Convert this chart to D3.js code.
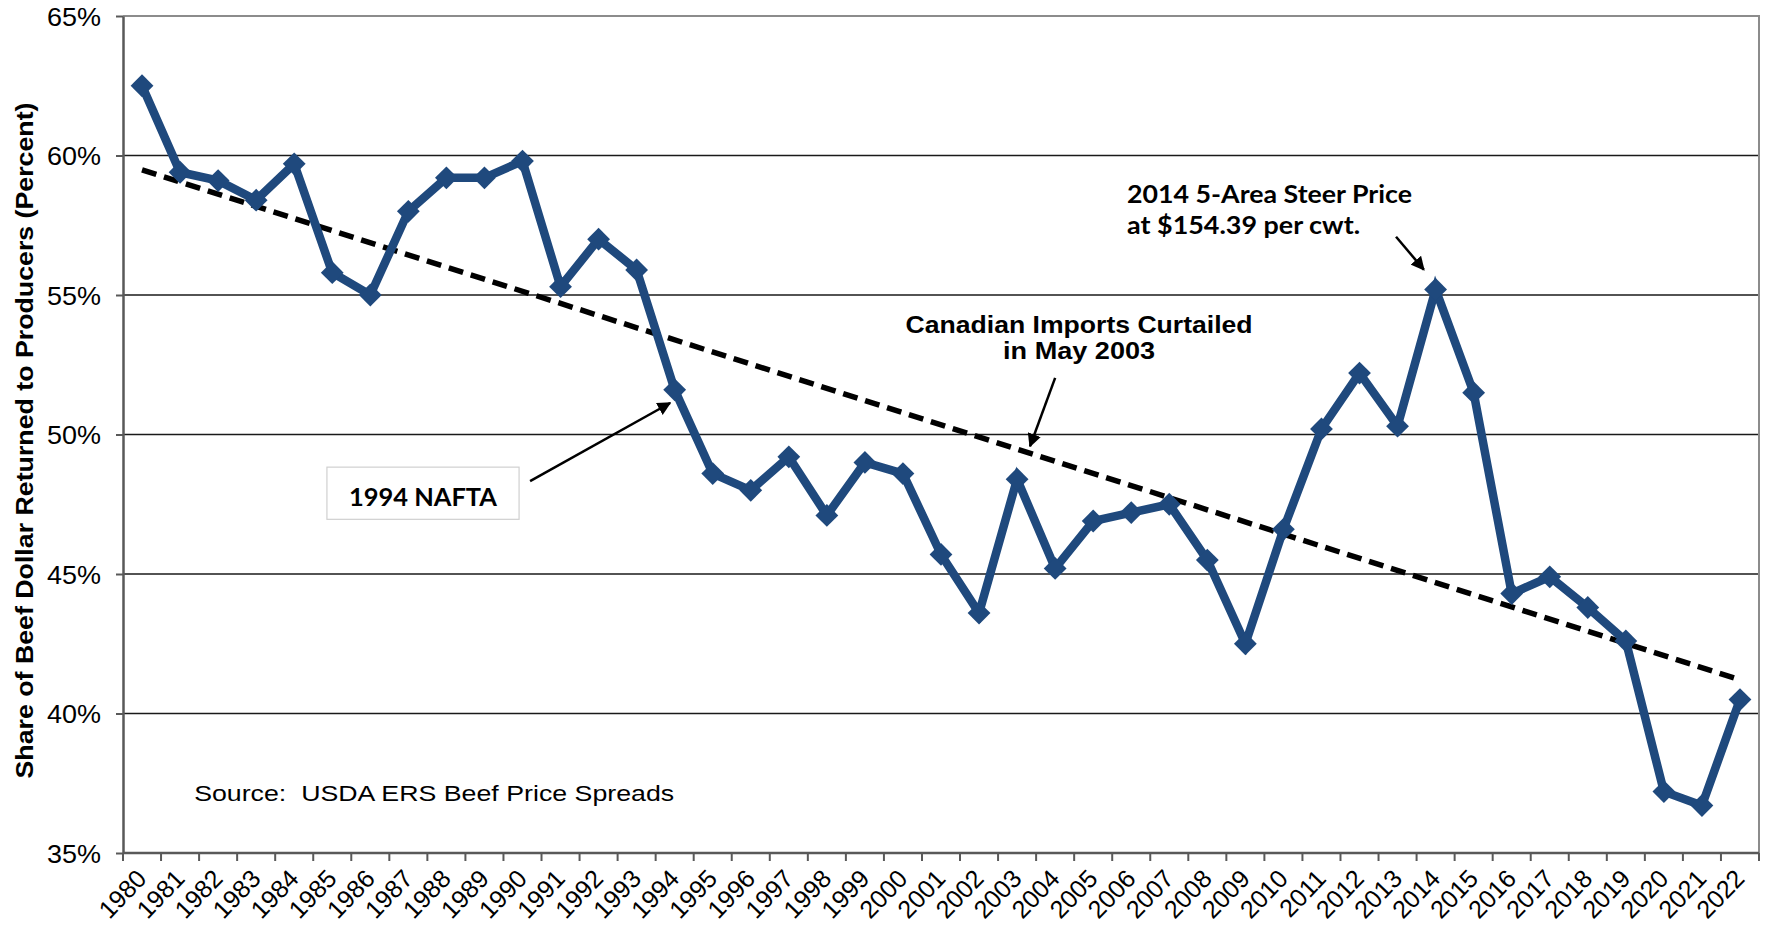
<!DOCTYPE html>
<html>
<head>
<meta charset="utf-8">
<script src="https://cdn.jsdelivr.net/npm/d3@7"></script>
<style>
  html, body { margin: 0; padding: 0; background: #fff; }
  svg { display: block; }
</style>
</head>
<body>
<svg id="chart" width="1767" height="929"></svg>
<script>

// chart data
const years = d3.range(1980, 2023).map(String);
const producerShare = [
    62.5, 59.4, 59.1, 58.4, 59.7, 55.8, 55.0, 58.0, 59.2, 59.2,
    59.8, 55.3, 57.0, 55.9, 51.6, 48.6, 48.0, 49.2, 47.1, 49.0,
    48.6, 45.7, 43.6, 48.4, 45.2, 46.9, 47.2, 47.5, 45.5, 42.5,
    46.6, 50.2, 52.2, 50.3, 55.2, 51.5, 44.3, 44.9, 43.8, 42.6,
    37.2, 36.7, 40.5
];
const yTicks = [35, 40, 45, 50, 55, 60, 65];
const yTitle = "Share of Beef Dollar Returned to Producers (Percent)";
const sourceNote = "Source:  USDA ERS Beef Price Spreads";
const naftaLabel = "1994 NAFTA";
const canadaLabel = ["Canadian Imports Curtailed", "in May 2003"];
const steerLabel = ["2014 5-Area Steer Price", "at $154.39 per cwt."];

const margin = {top: 16, right: 8, bottom: 76, left: 123};
const width = 1767, height = 929;
const blue = "#1f497d";

document.addEventListener('DOMContentLoaded', function() {
    drawChart("#chart");
});


function drawChart(svgSelect){
    const svg = d3.select(svgSelect);

    const x = d3.scaleBand()
        .domain(years)
        .range([margin.left, width - margin.right])
        .paddingInner(0).paddingOuter(0);

    const y = d3.scaleLinear()
        .domain([35, 65])
        .range([height - margin.bottom, margin.top]);

    // fractional year -> pixel, for the annotations
    const xAt = yr => x(years[0]) + x.bandwidth() / 2 + (yr - 1980) * x.step();
    const cx = (d, i) => x(years[i]) + x.bandwidth() / 2;

    const left = margin.left, right = width - margin.right;
    const top = margin.top, bottom = height - margin.bottom;

    // gridlines
    svg.append("g")
        .selectAll("line")
        .data(yTicks.filter(t => t > 35 && t < 65))
        .enter().append("line")
        .attr("x1", left).attr("x2", right)
        .attr("y1", d => y(d)).attr("y2", d => y(d))
        .attr("stroke", "#1a1a1a")
        .attr("stroke-width", 1.5);

    // frame: top + right in grey
    svg.append("path")
        .attr("d", `M${left},${top}H${right}V${bottom}`)
        .attr("fill", "none")
        .attr("stroke", "#8c8c8c")
        .attr("stroke-width", 2);

    // y axis
    const yAxis = svg.append("g")
        .attr("transform", `translate(${left},0)`)
        .call(d3.axisLeft(y).tickValues(yTicks).tickSize(7).tickSizeOuter(0).tickFormat(d => d + "%"));
    yAxis.select(".domain").attr("stroke", "#595959").attr("stroke-width", 2.5);
    yAxis.selectAll(".tick line").attr("stroke", "#595959").attr("stroke-width", 2);
    yAxis.selectAll(".tick text")
        .attr("x", -22)
        .attr("dy", "0.36em")
        .attr("fill", "#000")
        .attr("textLength", 54)
        .attr("lengthAdjust", "spacingAndGlyphs")
        .style("font-family", "'Liberation Sans', Arial, sans-serif")
        .style("font-size", "25px");

    // x axis: ticks sit between the categories
    const xAxis = svg.append("g")
        .attr("transform", `translate(0,${bottom})`);
    xAxis.append("line")
        .attr("x1", left).attr("x2", right)
        .attr("stroke", "#595959").attr("stroke-width", 2.5);
    xAxis.selectAll(".xtick")
        .data(years.concat(["end"]))
        .enter().append("line")
        .attr("class", "xtick")
        .attr("x1", (d, i) => left + i * x.step())
        .attr("x2", (d, i) => left + i * x.step())
        .attr("y1", 0).attr("y2", 8)
        .attr("stroke", "#595959").attr("stroke-width", 2);
    xAxis.selectAll(".xlabel")
        .data(years)
        .enter().append("text")
        .attr("class", "xlabel")
        .attr("transform", (d, i) => `translate(${cx(d, i) + 6},27) rotate(-46)`)
        .attr("text-anchor", "end")
        .style("font-family", "'Liberation Sans', Arial, sans-serif")
        .style("font-size", "25px")
        .text(d => d);

    // y title
    svg.append("text")
        .attr("transform", `translate(33,${(top + bottom) / 2 + 6}) rotate(-90)`)
        .attr("text-anchor", "middle")
        .attr("textLength", 676)
        .attr("lengthAdjust", "spacingAndGlyphs")
        .style("font-family", "'Liberation Sans', Arial, sans-serif")
        .style("font-weight", "bold")
        .style("font-size", "24px")
        .text(yTitle);

    // linear trend (least squares, like the spreadsheet trendline)
    const n = producerShare.length;
    const tMean = (n - 1) / 2;
    const vMean = d3.mean(producerShare);
    let sxy = 0, sxx = 0;
    producerShare.forEach((v, i) => {
        sxy += (i - tMean) * (v - vMean);
        sxx += (i - tMean) * (i - tMean);
    });
    const slope = sxy / sxx;
    const trend = [0, n - 1].map(i => ({i: i, v: vMean + slope * (i - tMean)}));

    svg.append("path")
        .datum(trend)
        .attr("d", d3.line().x(d => x(years[d.i]) + x.bandwidth() / 2).y(d => y(d.v)))
        .attr("fill", "none")
        .attr("stroke", "#000")
        .attr("stroke-width", 5.5)
        .attr("stroke-dasharray", "15,8");

    // main series
    svg.append("path")
        .datum(producerShare)
        .attr("d", d3.line().x(cx).y(d => y(d)))
        .attr("fill", "none")
        .attr("stroke", blue)
        .attr("stroke-width", 8.5)
        .attr("stroke-linejoin", "miter");

    svg.append("g")
        .selectAll("path")
        .data(producerShare)
        .enter().append("path")
        .attr("d", d3.symbol(d3.symbolSquare, 260))
        .attr("transform", (d, i) => `translate(${cx(d, i)},${y(d)}) rotate(45)`)
        .attr("fill", blue);

    // arrowhead
    svg.append("defs").append("marker")
        .attr("id", "arrow")
        .attr("viewBox", "0 0 10 10")
        .attr("refX", 9).attr("refY", 5)
        .attr("markerWidth", 5.5).attr("markerHeight", 5.5)
        .attr("markerUnits", "strokeWidth")
        .attr("orient", "auto")
        .append("path")
        .attr("d", "M0,0L10,5L0,10z")
        .attr("fill", "#000");

    const arrow = (x1, y1, x2, y2) => svg.append("line")
        .attr("x1", xAt(x1)).attr("y1", y(y1))
        .attr("x2", xAt(x2)).attr("y2", y(y2))
        .attr("stroke", "#000")
        .attr("stroke-width", 2.5)
        .attr("marker-end", "url(#arrow)");

    // NAFTA note
    svg.append("rect")
        .attr("x", xAt(1984.86)).attr("y", y(48.83))
        .attr("width", xAt(1989.91) - xAt(1984.86))
        .attr("height", y(46.96) - y(48.83))
        .attr("fill", "#fff")
        .attr("stroke", "#d0d0d0")
        .attr("stroke-width", 1.2);
    svg.append("text")
        .attr("x", (xAt(1984.86) + xAt(1989.91)) / 2)
        .attr("y", y(47.42))
        .attr("text-anchor", "middle")
        .attr("textLength", 148)
        .attr("lengthAdjust", "spacingAndGlyphs")
        .style("font-family", "Lato, 'Open Sans', sans-serif")
        .style("font-weight", "bold")
        .style("font-size", "24px")
        .text(naftaLabel);
    arrow(1990.2, 48.33, 1993.88, 51.13);

    // Canadian imports note
    const canadaWidths = [347, 152];
    svg.append("g").selectAll("text")
        .data(canadaLabel)
        .enter().append("text")
        .attr("x", xAt(2004.63))
        .attr("y", (d, i) => y(53.65) + i * 26)
        .attr("text-anchor", "middle")
        .attr("textLength", (d, i) => canadaWidths[i])
        .attr("lengthAdjust", "spacingAndGlyphs")
        .style("font-family", "'Liberation Sans', Arial, sans-serif")
        .style("font-weight", "bold")
        .style("font-size", "23px")
        .text(d => d);
    arrow(2004.0, 52.03, 2003.34, 49.58);

    // steer price note
    const steerWidths = [285, 233];
    svg.append("g").selectAll("text")
        .data(steerLabel)
        .enter().append("text")
        .attr("x", xAt(2005.89))
        .attr("y", (d, i) => y(58.28) + i * 31)
        .attr("textLength", (d, i) => steerWidths[i])
        .attr("lengthAdjust", "spacingAndGlyphs")
        .style("font-family", "Lato, 'Open Sans', sans-serif")
        .style("font-weight", "bold")
        .style("font-size", "24px")
        .text(d => d);
    arrow(2012.96, 57.09, 2013.69, 55.91);

    // source
    svg.append("text")
        .attr("x", xAt(1981.37))
        .attr("y", y(36.87))
        .attr("textLength", 480)
        .attr("lengthAdjust", "spacingAndGlyphs")
        .style("white-space", "pre")
        .style("font-family", "'Liberation Sans', Arial, sans-serif")
        .style("font-size", "22px")
        .text(sourceNote);
}

</script>
</body>
</html>
